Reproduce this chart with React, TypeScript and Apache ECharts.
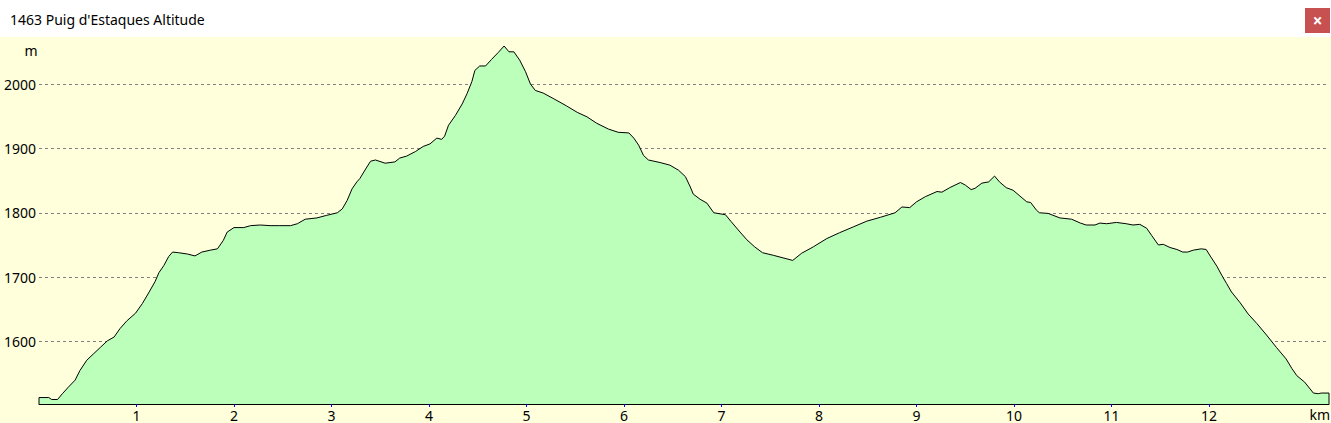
import { useRef, useEffect } from 'react'
import * as echarts from 'echarts'

const TITLE = "1463 Puig d'Estaques Altitude"

// distance along the track (km) and altitude (m)
const distKm = [
  0.0, 0.1, 0.13, 0.19, 0.24, 0.3, 0.37, 0.42, 0.49, 0.56, 0.63, 0.7, 0.77, 0.83, 0.9, 0.99,
  1.06, 1.13, 1.19, 1.23, 1.28, 1.33, 1.37, 1.43, 1.52, 1.6, 1.67, 1.76, 1.83, 1.89, 1.93,
  2.0, 2.1, 2.17, 2.27, 2.37, 2.47, 2.58, 2.65, 2.73, 2.85, 2.95,
  3.06, 3.11, 3.16, 3.21, 3.26, 3.29, 3.35, 3.4, 3.45, 3.55, 3.65, 3.7, 3.77, 3.86, 3.94,
  4.01, 4.08, 4.13, 4.16, 4.2, 4.27, 4.34, 4.39, 4.44, 4.47, 4.52, 4.58, 4.64, 4.71, 4.77, 4.82, 4.87, 4.93, 4.99,
  5.04, 5.09, 5.17, 5.28, 5.41, 5.52, 5.62, 5.72, 5.84, 5.94,
  6.05, 6.1, 6.15, 6.2, 6.25, 6.37, 6.47, 6.56, 6.63, 6.68, 6.71, 6.78, 6.85, 6.92,
  7.04, 7.1, 7.19, 7.26, 7.34, 7.42, 7.53, 7.63, 7.73, 7.82, 7.94,
  8.08, 8.21, 8.35, 8.49, 8.63, 8.78, 8.85, 8.93,
  9.0, 9.09, 9.21, 9.26, 9.34, 9.45, 9.5, 9.56, 9.6, 9.67, 9.74, 9.8, 9.85, 9.92, 9.99,
  10.06, 10.13, 10.17, 10.23, 10.26, 10.35, 10.47, 10.59, 10.68, 10.74, 10.83, 10.88, 10.95,
  11.05, 11.15, 11.22, 11.29, 11.36, 11.41, 11.48, 11.53, 11.6, 11.67, 11.73, 11.78, 11.84, 11.92, 11.97,
  12.02, 12.08, 12.13, 12.18, 12.23, 12.32, 12.4, 12.49, 12.59, 12.69, 12.79, 12.85, 12.9, 12.98,
  13.07, 13.12, 13.15, 13.23
]

const altM = [
  1513, 1513, 1510, 1510, 1519, 1529, 1540, 1555, 1571, 1581, 1591, 1601, 1607, 1620, 1632, 1644,
  1659, 1677, 1693, 1707, 1718, 1732, 1739, 1738, 1736, 1733, 1739, 1742, 1744, 1757, 1770,
  1777, 1777, 1780, 1781, 1780, 1780, 1780, 1783, 1790, 1792, 1796,
  1800, 1806, 1819, 1837, 1848, 1853, 1868, 1880, 1882, 1877, 1879, 1885, 1888, 1895, 1903,
  1907, 1916, 1914, 1919, 1936, 1951, 1969, 1985, 2004, 2021, 2028, 2028, 2038, 2049, 2059, 2050, 2050, 2037, 2019,
  2000, 1990, 1986, 1977, 1966, 1956, 1949, 1939, 1930, 1925,
  1924, 1916, 1905, 1889, 1882, 1878, 1874, 1866, 1856, 1840, 1829, 1821, 1815, 1800,
  1797, 1786, 1770, 1758, 1747, 1738, 1734, 1730, 1726, 1737, 1747,
  1760, 1769, 1778, 1787, 1793, 1800, 1809, 1808,
  1817, 1825, 1833, 1832, 1839, 1847, 1843, 1836, 1838, 1846, 1848, 1857, 1848, 1839, 1835,
  1826, 1817, 1816, 1804, 1800, 1799, 1792, 1790, 1784, 1781, 1781, 1784, 1783,
  1785, 1783, 1781, 1782, 1776, 1765, 1750, 1751, 1746, 1743, 1739, 1739, 1742, 1744, 1743,
  1731, 1717, 1703, 1690, 1677, 1660, 1643, 1628, 1610, 1591, 1573, 1558, 1547, 1537,
  1520, 1519, 1520, 1520
]

const xTicks = [1, 2, 3, 4, 5, 6, 7, 8, 9, 10, 11, 12]
const yTicks = [1600, 1700, 1800, 1900, 2000]

const X_MAX = 13.23
const Y_MIN = 1503
const Y_MAX = 2073

const FONT = '"Noto Sans", sans-serif'

export default function App() {
  const ref = useRef<HTMLDivElement>(null)

  useEffect(() => {
    const el = ref.current
    if (!el) return
    const chart = echarts.init(el, null, { renderer: 'svg' })

    // close the profile polygon down to the baseline at both ends
    const profile: [number, number][] = distKm.map((d, i) => [d, altM[i]])
    profile.unshift([distKm[0], Y_MIN])
    profile.push([distKm[distKm.length - 1], Y_MIN])

    chart.setOption({
      animation: false,
      backgroundColor: '#FFFFDC',
      grid: { left: 39, right: 2, top: 37, bottom: 19 },
      xAxis: {
        type: 'value',
        min: 0,
        max: X_MAX,
        axisLine: { show: true, onZero: false, lineStyle: { color: '#000', width: 1 } },
        axisTick: { show: true, length: 3, customValues: xTicks, lineStyle: { color: '#0000FF' } },
        axisLabel: {
          customValues: xTicks, margin: 4, color: '#000', fontSize: 14, fontFamily: FONT,
          formatter: (v: number) => String(v)
        },
        splitLine: { show: false }
      },
      yAxis: {
        type: 'value',
        min: Y_MIN,
        max: Y_MAX,
        axisLine: { show: false },
        axisTick: { show: false, customValues: yTicks },
        axisLabel: {
          customValues: yTicks, margin: 3, color: '#000', fontSize: 14, fontFamily: FONT,
          formatter: (v: number) => String(v)
        },
        splitLine: { show: true, lineStyle: { color: '#808080', type: [3, 3], width: 1 } }
      },
      series: [{
        type: 'line',
        data: profile,
        symbol: 'none',
        silent: true,
        lineStyle: { color: '#000', width: 1 },
        areaStyle: { color: '#BBFFBB', opacity: 1 }
      }],
      graphic: [
        { type: 'rect', shape: { x: 0, y: 0, width: 1331, height: 37 }, style: { fill: '#FFFFFF' } },
        {
          type: 'text', x: 10, y: 19,
          style: { text: TITLE, fill: '#000', font: `14px ${FONT}`, verticalAlign: 'middle' }
        },
        { type: 'rect', shape: { x: 1305, y: 8, width: 25, height: 25 }, style: { fill: '#C75050' } },
        {
          type: 'text', x: 1317.5, y: 20,
          style: { text: '×', fill: '#FFFFFF', font: `bold 17px ${FONT}`, align: 'center', verticalAlign: 'middle' }
        },
        {
          type: 'text', x: 31, y: 50,
          style: { text: 'm', fill: '#000', font: `14px ${FONT}`, align: 'center', verticalAlign: 'middle' }
        },
        {
          type: 'text', x: 1330, y: 414,
          style: { text: 'km', fill: '#000', font: `14px ${FONT}`, align: 'right', verticalAlign: 'middle' }
        }
      ]
    })

    return () => chart.dispose()
  }, [])

  return (
    <div
      ref={ref}
      style={{ position: 'fixed', left: 0, top: 0, width: 1331, height: 423 }}
    />
  )
}
